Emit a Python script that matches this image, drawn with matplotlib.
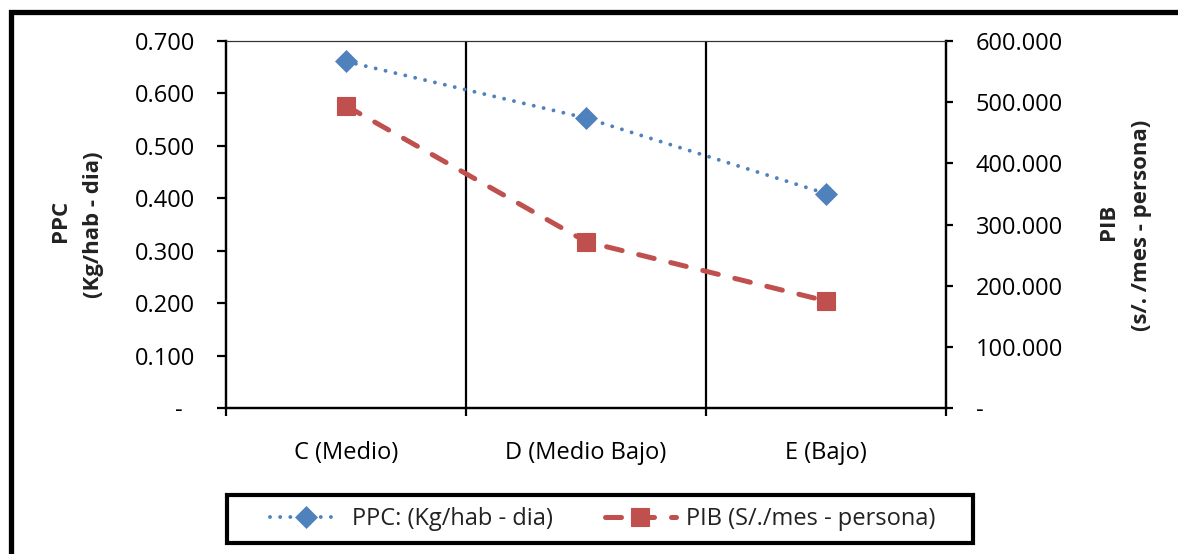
import matplotlib

matplotlib.use("Agg")
import matplotlib.pyplot as plt
from matplotlib.patches import Rectangle
from matplotlib.ticker import FixedLocator

# Waste generation per capita vs. income, by socioeconomic stratum
categories = ["C (Medio)", "D (Medio Bajo)", "E (Bajo)"]
ppc_values = [0.661, 0.553, 0.409]
pib_values = [494.0, 272.0, 175.0]

ppc_ticks = [0.0, 0.1, 0.2, 0.3, 0.4, 0.5, 0.6, 0.7]
pib_ticks = [0.0, 100.0, 200.0, 300.0, 400.0, 500.0, 600.0]

BLUE = "#4F81BD"
RED = "#C0504D"
W, H = 1178, 554

plt.rcParams["font.family"] = ["Open Sans", "DejaVu Sans"]
plt.rcParams["font.size"] = 17
plt.rcParams["text.color"] = "#222222"


def fmt_left(v):
    return "-  " if v == 0 else f"{v:.3f}"


def fmt_right(v):
    return "-" if v == 0 else f"{v:.3f}"


fig = plt.figure(figsize=(W / 100, H / 100), dpi=100)
ax = fig.add_axes([226 / W, 1 - 408 / H, 720 / W, 367 / H])
ax2 = ax.twinx()

x = [i + 0.5 for i in range(len(categories))]
ax.plot(
    x, ppc_values,
    color=BLUE, linewidth=2.8, linestyle=(0, (0.01, 2.6)),
    dash_capstyle="round", marker="D", markersize=11.5,
    markeredgewidth=0.5, label="PPC: (Kg/hab - dia)", zorder=4,
)
ax2.plot(
    x, pib_values,
    color=RED, linewidth=3.6, linestyle=(0, (3.2, 3.4)),
    dash_capstyle="round", marker="s", markersize=12.5,
    markeredgewidth=0.8, label="PIB (S/./mes - persona)", zorder=4,
)

ax.set_xlim(0, 3)
ax.set_ylim(0, 0.7)
ax2.set_ylim(0, 600)

for b in (1, 2):
    ax.axvline(b, color="black", linewidth=1.6, zorder=1)

ax.xaxis.set_major_locator(FixedLocator([0, 1, 2, 3]))
ax.set_xticklabels([])
ax.xaxis.set_minor_locator(FixedLocator(x))
ax.set_xticklabels(categories, minor=True)
ax.tick_params(axis="x", which="major", direction="out", length=6, width=1.6)
ax.tick_params(axis="x", which="minor", length=0, pad=24)

ax.set_yticks(ppc_ticks)
ax.set_yticklabels([fmt_left(v) for v in ppc_ticks])
ax.tick_params(axis="y", direction="out", length=6.5, width=1.6, pad=16)

ax2.set_yticks(pib_ticks)
ax2.set_yticklabels([fmt_right(v) for v in pib_ticks])
ax2.tick_params(axis="y", direction="out", length=5, width=1.6, pad=16.5)

for a in (ax, ax2):
    a.spines["left"].set_linewidth(1.6)
    a.spines["right"].set_linewidth(1.6)
    a.spines["bottom"].set_linewidth(1.6)
    a.spines["top"].set_linewidth(0.8)
    a.spines["top"].set_color("#333333")

# two-line axis titles, each line placed on its own
title_kw = dict(rotation=90, ha="center", va="center", fontweight="bold", fontsize=16)
fig.text(61 / W, 1 - 221 / H, "PPC", **title_kw)
fig.text(94 / W, 1 - 225 / H, "(Kg/hab - dia)", **title_kw)
fig.text(1109 / W, 1 - 222 / H, "PIB", **title_kw)
fig.text(1141 / W, 1 - 225 / H, "(s/. /mes - persona)", **title_kw)

h1, l1 = ax.get_legend_handles_labels()
h2, l2 = ax2.get_legend_handles_labels()
fig.legend(
    h1 + h2, l1 + l2, ncol=2, loc="center",
    bbox_to_anchor=(603 / W, 1 - 519 / H),
    numpoints=1, handlelength=3.0, handletextpad=0.45, columnspacing=2.2,
    frameon=False, fontsize=17,
)
fig.patches.append(Rectangle(
    (227 / W, 1 - 543 / H), 746 / W, 48 / H,
    transform=fig.transFigure, fill=False, edgecolor="black", linewidth=3.0,
))

# outer chart border, cropped on the right and bottom
fig.patches.append(Rectangle(
    (10.8 / W, -0.2), 1.5, 1.2 - 11.7 / H,
    transform=fig.transFigure, fill=False, edgecolor="black", linewidth=3.8,
))

fig.savefig("out.png", dpi=100)
